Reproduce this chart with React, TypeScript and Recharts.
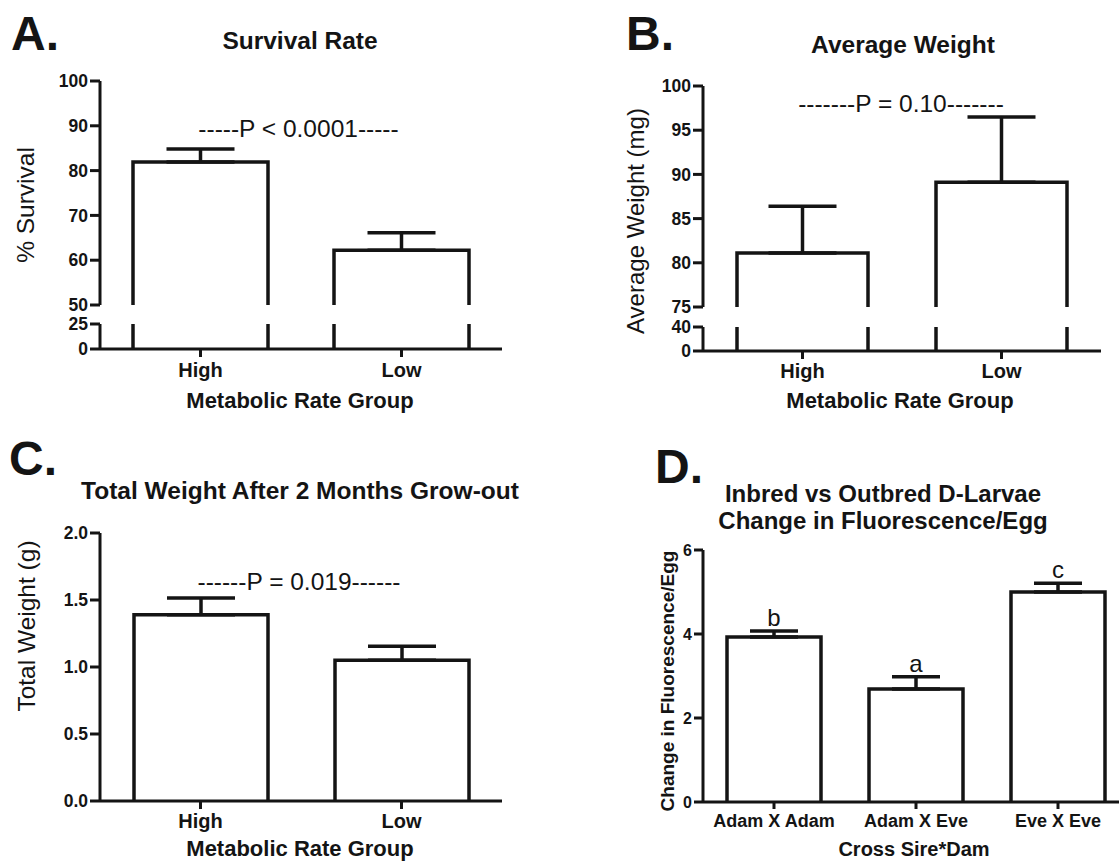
import React from 'react';
import { ComposedChart, Bar, XAxis, YAxis, ErrorBar, Line, LabelList } from 'recharts';

const INK = '#141414';
const FONT = '"Liberation Sans", Arial, Helvetica, sans-serif';

// ---- Panel A: Survival Rate ----
const metabolicGroups = ['High', 'Low'];
const survivalMean = [81.9, 62.2];
const survivalSem = [2.9, 3.9];
const survivalUpperTicks = [50, 60, 70, 80, 90, 100];
const survivalLowerTicks = [0, 25];

// ---- Panel B: Average Weight ----
const weightMean = [81.1, 89.1];
const weightSem = [5.3, 7.4];
const weightUpperTicks = [75, 80, 85, 90, 95, 100];
const weightLowerTicks = [0, 40];

// ---- Panel C: Total Weight ----
const totalMean = [1.39, 1.05];
const totalSem = [0.125, 0.105];
const totalTicks = [0, 0.5, 1, 1.5, 2];

// ---- Panel D: Fluorescence ----
const crossGroups = ['Adam X Adam', 'Adam X Eve', 'Eve X Eve'];
const fluorMean = [3.93, 2.69, 5.0];
const fluorSem = [0.14, 0.29, 0.21];
const fluorLetters = ['b', 'a', 'c'];
const fluorTicks = [0, 2, 4, 6];

const buildRows = (names: string[], means: number[], sems: number[], letters?: string[]) =>
  names.map((name, i) => ({
    name,
    value: means[i],
    err: [0, sems[i]],
    top: means[i] + sems[i],
    letter: letters ? letters[i] : '',
  }));

const dataA = buildRows(metabolicGroups, survivalMean, survivalSem);
const dataB = buildRows(metabolicGroups, weightMean, weightSem);
const dataC = buildRows(metabolicGroups, totalMean, totalSem);
const dataD = buildRows(crossGroups, fluorMean, fluorSem, fluorLetters);

const axisStyle = { stroke: INK, strokeWidth: 3 };
const yTick = (size: number) => ({ fill: INK, fontSize: size, fontWeight: 700, fontFamily: FONT });
const xTick = (size: number) => ({ fill: INK, fontSize: size, fontWeight: 700, fontFamily: FONT });

const OpenBar = (props: any) => {
  const { x, y, width, height } = props;
  if ([x, y, width, height].some((v) => v == null || isNaN(v))) return null;
  const b = y + height;
  return (
    <path
      d={`M${x},${b} L${x},${y} L${x + width},${y} L${x + width},${b}`}
      fill="none"
      stroke={INK}
      strokeWidth={3.5}
    />
  );
};

const StubBar = (props: any) => {
  const { x, y, width, height, background } = props;
  if ([x, y, width, height].some((v) => v == null || isNaN(v))) return null;
  const b = y + height;
  const t = background && background.y != null ? Math.max(y, background.y) : y;
  return (
    <g>
      <line x1={x} y1={t} x2={x} y2={b} stroke={INK} strokeWidth={3.5} />
      <line x1={x + width} y1={t} x2={x + width} y2={b} stroke={INK} strokeWidth={3.5} />
    </g>
  );
};

const Abs = ({ left, top, children }: any) => (
  <div style={{ position: 'absolute', left, top }}>{children}</div>
);

const RotLabel = ({ x, y, text, size, weight }: any) => (
  <text
    x={x}
    y={y}
    transform={`rotate(-90, ${x}, ${y})`}
    textAnchor="middle"
    fontSize={size}
    fontWeight={weight}
    fontFamily={FONT}
    fill={INK}
  >
    {text}
  </text>
);

const T = ({ x, y, text, size, weight = 400, anchor = 'middle' }: any) => (
  <text x={x} y={y} textAnchor={anchor} fontSize={size} fontWeight={weight} fontFamily={FONT} fill={INK}>
    {text}
  </text>
);

export default function App() {
  return (
    <div
      style={{
        position: 'absolute',
        left: 0,
        top: 0,
        width: 1119,
        height: 862,
        overflow: 'hidden',
        background: '#fff',
        fontFamily: FONT,
      }}
    >
      {/* Panel A upper */}
      <Abs left={0} top={0}>
        <ComposedChart width={520} height={320} data={dataA} margin={{ top: 81, right: 18, bottom: 15, left: 40 }}>
          <XAxis dataKey="name" hide height={0} />
          <YAxis type="number" domain={[50, 100]} ticks={survivalUpperTicks} interval={0} width={60} tickSize={10} tickMargin={2} axisLine={axisStyle} tickLine={axisStyle} tick={yTick(17.5)} />
          <Bar dataKey="value" barSize={135} shape={OpenBar} isAnimationActive={false}>
            <ErrorBar dataKey="err" width={34} stroke={INK} strokeWidth={3.5} direction="y" />
          </Bar>
        </ComposedChart>
      </Abs>
      {/* Panel A lower */}
      <Abs left={0} top={300}>
        <ComposedChart width={520} height={100} data={dataA} margin={{ top: 24, right: 18, bottom: 11, left: 40 }}>
          <XAxis dataKey="name" height={40} interval={0} tickSize={8} tickMargin={6} axisLine={axisStyle} tickLine={axisStyle} tick={xTick(20)} />
          <YAxis type="number" domain={[0, 25]} allowDataOverflow ticks={survivalLowerTicks} interval={0} width={60} tickSize={10} tickMargin={2} axisLine={axisStyle} tickLine={axisStyle} tick={yTick(17.5)} />
          <Bar dataKey="value" barSize={135} shape={StubBar} isAnimationActive={false} />
        </ComposedChart>
      </Abs>

      {/* Panel B upper */}
      <Abs left={600} top={0}>
        <ComposedChart width={520} height={320} data={dataB} margin={{ top: 86, right: 19, bottom: 13, left: 43 }}>
          <XAxis dataKey="name" hide height={0} />
          <YAxis type="number" domain={[75, 100]} ticks={weightUpperTicks} interval={0} width={60} tickSize={10} tickMargin={2} axisLine={axisStyle} tickLine={axisStyle} tick={yTick(17.5)} />
          <Bar dataKey="value" barSize={131} shape={OpenBar} isAnimationActive={false}>
            <ErrorBar dataKey="err" width={34} stroke={INK} strokeWidth={3.5} direction="y" />
          </Bar>
        </ComposedChart>
      </Abs>
      {/* Panel B lower */}
      <Abs left={600} top={300}>
        <ComposedChart width={520} height={100} data={dataB} margin={{ top: 27, right: 19, bottom: 9, left: 43 }}>
          <XAxis dataKey="name" height={40} interval={0} tickSize={8} tickMargin={5} axisLine={axisStyle} tickLine={axisStyle} tick={xTick(20)} />
          <YAxis type="number" domain={[0, 40]} allowDataOverflow ticks={weightLowerTicks} interval={0} width={60} tickSize={10} tickMargin={2} axisLine={axisStyle} tickLine={axisStyle} tick={yTick(17.5)} />
          <Bar dataKey="value" barSize={131} shape={StubBar} isAnimationActive={false} />
        </ComposedChart>
      </Abs>

      {/* Panel C */}
      <Abs left={0} top={420}>
        <ComposedChart width={520} height={442} data={dataC} margin={{ top: 113, right: 18, bottom: 21, left: 40 }}>
          <XAxis dataKey="name" height={40} interval={0} tickSize={8} tickMargin={5} axisLine={axisStyle} tickLine={axisStyle} tick={xTick(20)} />
          <YAxis type="number" domain={[0, 2]} ticks={totalTicks} interval={0} width={60} tickSize={10} tickMargin={2} tickFormatter={(v: number) => v.toFixed(1)} axisLine={axisStyle} tickLine={axisStyle} tick={yTick(17.5)} />
          <Bar dataKey="value" barSize={134} shape={OpenBar} isAnimationActive={false}>
            <ErrorBar dataKey="err" width={34} stroke={INK} strokeWidth={3.5} direction="y" />
          </Bar>
        </ComposedChart>
      </Abs>

      {/* Panel D */}
      <Abs left={600} top={420}>
        <ComposedChart width={540} height={442} data={dataD} margin={{ top: 130, right: 11, bottom: 20, left: 43 }}>
          <XAxis dataKey="name" height={40} interval={0} tickSize={7} tickMargin={5} axisLine={axisStyle} tickLine={axisStyle} tick={xTick(18)} />
          <YAxis type="number" domain={[0, 6]} ticks={fluorTicks} interval={0} width={60} tickSize={9} tickMargin={2} axisLine={axisStyle} tickLine={axisStyle} tick={yTick(16)} />
          <Bar dataKey="value" barSize={94} shape={OpenBar} isAnimationActive={false}>
            <ErrorBar dataKey="err" width={24} stroke={INK} strokeWidth={3.5} direction="y" />
          </Bar>
          <Line dataKey="top" stroke="none" dot={false} activeDot={false} isAnimationActive={false} legendType="none">
            <LabelList dataKey="letter" position="top" offset={5} fill={INK} fontSize={24} fontFamily={FONT} />
          </Line>
        </ComposedChart>
      </Abs>

      {/* Text overlay */}
      <svg width={1119} height={862} style={{ position: 'absolute', left: 0, top: 0, pointerEvents: 'none' }}>
        <T x={11} y={50} text="A." size={48} weight={700} anchor="start" />
        <T x={626} y={50} text="B." size={48} weight={700} anchor="start" />
        <T x={9} y={475} text="C." size={48} weight={700} anchor="start" />
        <T x={655} y={483} text="D." size={48} weight={700} anchor="start" />

        <T x={300} y={49} text="Survival Rate" size={24.5} weight={700} />
        <T x={903} y={53} text="Average Weight" size={24.5} weight={700} />
        <T x={300} y={499} text="Total Weight After 2 Months Grow-out" size={24.5} weight={700} />
        <T x={883} y={502} text="Inbred vs Outbred D-Larvae" size={24} weight={700} />
        <T x={883} y={529} text="Change in Fluorescence/Egg" size={24} weight={700} />

        <T x={298.5} y={137} text="-----P < 0.0001-----" size={24.5} />
        <T x={901} y={112} text="-------P = 0.10-------" size={24.5} />
        <T x={299} y={590} text="------P = 0.019------" size={24.5} />

        <RotLabel x={34} y={205} text="% Survival" size={24.5} weight={400} />
        <RotLabel x={644} y={221} text="Average Weight (mg)" size={24} weight={400} />
        <RotLabel x={35} y={626} text="Total Weight (g)" size={24.5} weight={400} />
        <RotLabel x={674} y={681} text="Change in Fluorescence/Egg" size={19} weight={700} />

        <T x={300} y={408} text="Metabolic Rate Group" size={22} weight={700} />
        <T x={900} y={408} text="Metabolic Rate Group" size={22} weight={700} />
        <T x={300} y={856} text="Metabolic Rate Group" size={22} weight={700} />
        <T x={914} y={856} text="Cross Sire*Dam" size={20} weight={700} />
      </svg>
    </div>
  );
}
